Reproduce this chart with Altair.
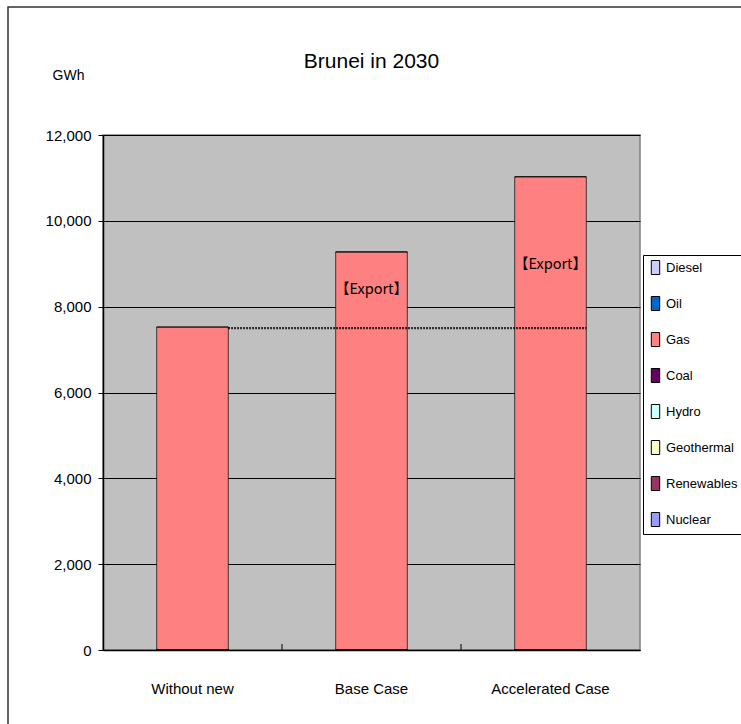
import altair as alt
import pandas as pd

# ---------------- data ----------------
cases = ["Without new", "Base Case", "Accelerated Case"]
fuels = ["Diesel", "Oil", "Gas", "Coal", "Hydro", "Geothermal", "Renewables", "Nuclear"]
fuel_colors = ["#CCCCFF", "#0066CC", "#FF8080", "#660066", "#CCFFFF", "#FFFFCC", "#993366", "#9999FF"]

diesel = [0, 0, 0]
oil = [0, 0, 0]
gas = [7520, 9270, 11020]
coal = [0, 0, 0]
hydro = [0, 0, 0]
geothermal = [0, 0, 0]
renewables = [0, 0, 0]
nuclear = [0, 0, 0]

domestic_level = 7500
export_cases = ["Base Case", "Accelerated Case"]
export_text = ["【Export】", "【Export】"]
export_label_gwh = [8380, 8970]

y_ticks = [0, 2000, 4000, 6000, 8000, 10000, 12000]

# ---------------- tables ----------------
series = [diesel, oil, gas, coal, hydro, geothermal, renewables, nuclear]
rows = []
for i, (f, vals) in enumerate(zip(fuels, series)):
    for c, v in zip(cases, vals):
        rows.append({"case": c, "fuel": f, "gwh": v, "idx": i})
df = pd.DataFrame(rows)

rule_df = pd.DataFrame({"case": [cases[0]], "case_end": [cases[-1]], "level": [domestic_level]})
label_df = pd.DataFrame({"case": export_cases, "text": export_text, "gwh": export_label_gwh})
tick_df = pd.DataFrame({"case": cases[1:]})

FONT = "Liberation Sans"
W, H = 537, 515

xscale = alt.Scale(domain=cases, paddingInner=0, paddingOuter=0)
yscale = alt.Scale(domain=[0, 12000], nice=False)

bars = alt.Chart(df).mark_bar(width=alt.RelativeBandSize(0.4), stroke="black", strokeWidth=0.7).encode(
    x=alt.X("case:N", scale=xscale, sort=cases,
            axis=alt.Axis(title=None, labelAngle=0, ticks=False, labelPadding=31,
                          domainColor="black", domainWidth=1.5, labelFontSize=15,
                          labelColor="black", labelFont=FONT)),
    y=alt.Y("gwh:Q", stack="zero", scale=yscale,
            axis=alt.Axis(values=y_ticks, format=",d", title="GWh", titleAngle=0,
                          titleX=-35, titleY=-60, titleAlign="center", titleBaseline="middle",
                          titleFontSize=14, titleFontWeight="normal", titleFont=FONT, titleColor="black",
                          labelFontSize=15, labelFont=FONT, labelColor="black", labelPadding=7,
                          tickSize=5, tickColor="black", domainColor="black", domainWidth=1.5,
                          grid=True, gridColor="black", gridWidth=1.2)),
    color=alt.Color("fuel:N", sort=fuels, scale=alt.Scale(domain=fuels, range=fuel_colors),
                    legend=alt.Legend(title=None, orient="none", legendX=540, legendY=120,
                                      fillColor="white", strokeColor="black", padding=5,
                                      symbolType="M-0.6,-1L0.6,-1L0.6,1L-0.6,1Z", symbolSize=196,
                                      symbolStrokeColor="black", symbolStrokeWidth=1,
                                      labelFontSize=13, labelFont=FONT, labelColor="black",
                                      rowPadding=17, labelOffset=3, labelLimit=120)),
    order=alt.Order("idx:Q", sort="descending"),
)

rule = alt.Chart(rule_df).mark_rule(color="black", strokeWidth=2.4, strokeDash=[1.5, 1.5]).encode(
    x=alt.X("case:N", scale=xscale, sort=cases, bandPosition=0.7),
    x2=alt.X2("case_end", bandPosition=0.7),
    y=alt.Y("level:Q", scale=yscale),
)

labels = alt.Chart(label_df).mark_text(font="Noto Sans CJK JP", fontSize=14.5, color="black").encode(
    x=alt.X("case:N", scale=xscale, sort=cases),
    y=alt.Y("gwh:Q", scale=yscale),
    text="text:N",
)

ticks = alt.Chart(tick_df).mark_rule(color="black", strokeWidth=1).encode(
    x=alt.X("case:N", scale=xscale, sort=cases, bandPosition=0),
    y=alt.value(H),
    y2=alt.value(H - 6),
)

border = alt.Chart(pd.DataFrame({"a": [0]})).mark_rect(fillOpacity=0, stroke="#333333", strokeWidth=1.5).encode(
    x=alt.value(-95), x2=alt.value(W + 110), y=alt.value(-128), y2=alt.value(H + 90),
)

chart = alt.layer(border, bars, rule, labels, ticks).properties(
    width=W, height=H,
    title=alt.TitleParams("Brunei in 2030", fontSize=21, font=FONT, fontWeight="normal",
                          color="black", anchor="middle", offset=-66),
    autosize=alt.AutoSizeParams(type="none"),
    padding={"left": 103, "top": 135, "right": 101, "bottom": 74},
    background="white",
).configure_view(fill="#C0C0C0", stroke="#808080", strokeWidth=1.5)

chart.save("out.html", embed_options={"renderer": "svg", "actions": False})
